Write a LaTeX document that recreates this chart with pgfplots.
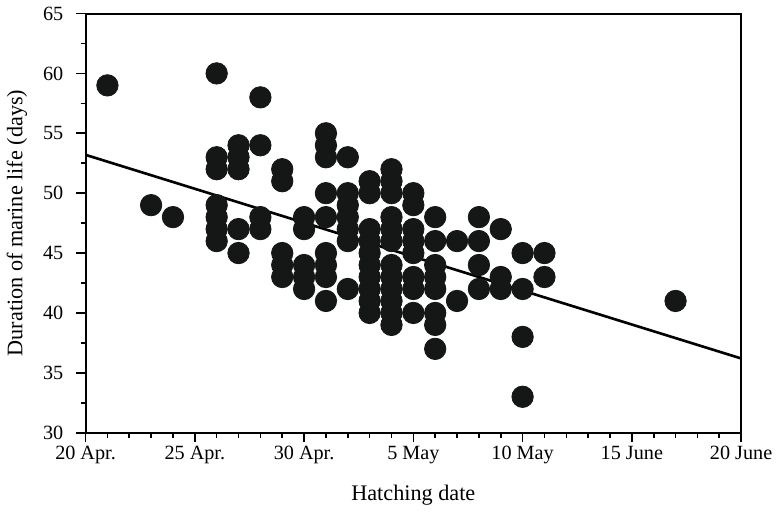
\documentclass[border=0pt]{standalone}
\usepackage{fontspec}
\setmainfont{Liberation Serif}
\usepackage{pgfplots}
\pgfplotsset{compat=1.18}
\definecolor{dot}{HTML}{141716}
\begin{document}
\begin{tikzpicture}
\begin{axis}[
  width=324.5pt, height=207.5pt, scale only axis,
  xmin=0, xmax=30, ymin=30, ymax=65,
  xtick={0,5,...,30},
  xticklabels={20 Apr., 25 Apr., 30 Apr., 5 May, 10 May, 15 June, 20 June},
  minor x tick num=4,
  ytick={30,35,...,65},
  minor y tick num=1,
  tick pos=left,
  tick align=outside,
  major tick length=4.5pt,
  minor tick length=2.5pt,
  axis line style={line width=1pt},
  every tick/.style={line width=0.8pt, black},
  ticklabel style={font=\fontsize{10}{12}\selectfont},
  xticklabel style={yshift=1.5pt},
  yticklabel style={xshift=-3pt},
  /pgf/number format/assume math mode=true,
  xlabel={Hatching date},
  ylabel={Duration of marine life (days)},
  label style={font=\fontsize{11}{13}\selectfont},
  xlabel style={yshift=-3.5pt},
  ylabel style={yshift=1pt},
  clip=false,
]
\addplot[line width=1.3pt, black] coordinates {(0,53.2) (30,36.2)};
\addplot[only marks, mark=*, mark size=5.3pt, color=dot, mark options={fill=dot, draw=dot}] coordinates {
(1,59)
(3,49)
(4,48)
(6,60) (6,53) (6,52) (6,49) (6,48) (6,47) (6,46)
(7,54) (7,53) (7,52) (7,47) (7,45)
(8,58) (8,54) (8,48) (8,47)
(9,52) (9,51) (9,45) (9,44) (9,43)
(10,48) (10,47) (10,44) (10,43) (10,42)
(11,55) (11,54) (11,53) (11,50) (11,48) (11,45) (11,44) (11,43) (11,41)
(12,53) (12,50) (12,49) (12,48) (12,47) (12,46) (12,42)
(13,51) (13,50) (13,47) (13,46) (13,45) (13,44) (13,43) (13,42) (13,41) (13,40)
(14,52) (14,51) (14,50) (14,48) (14,47) (14,46) (14,44) (14,43) (14,42) (14,41) (14,40) (14,39)
(15,50) (15,49) (15,47) (15,46) (15,45) (15,43) (15,42) (15,40)
(16,48) (16,46) (16,44) (16,43) (16,42) (16,40) (16,39) (16,37)
(17,46) (17,41)
(18,48) (18,46) (18,44) (18,42)
(19,47) (19,43) (19,42)
(20,45) (20,42) (20,38) (20,33)
(21,45) (21,43)
(27,41)
};
\end{axis}
\end{tikzpicture}
\end{document}
